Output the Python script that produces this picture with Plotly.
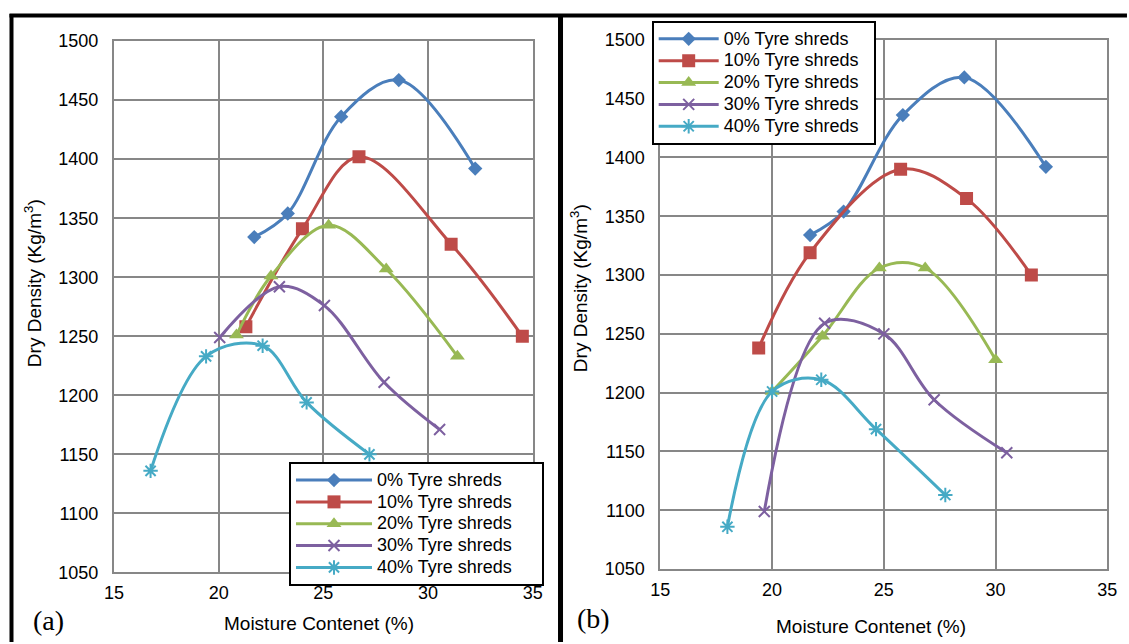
import plotly.graph_objects as go

# ---------------- data ----------------
series_names = ["0% Tyre shreds", "10% Tyre shreds", "20% Tyre shreds",
                "30% Tyre shreds", "40% Tyre shreds"]

# panel (a)
x0a = [21.7, 23.3, 25.85, 28.6, 32.25]
y0a = [1334, 1354, 1436, 1467, 1392]
x10a = [21.3, 24.0, 26.7, 31.1, 34.5]
y10a = [1258, 1341, 1402, 1328, 1250]
x20a = [20.85, 22.5, 25.25, 28.0, 31.4]
y20a = [1251, 1301, 1344, 1307, 1233]
x30a = [20.05, 22.9, 25.05, 27.9, 30.55]
y30a = [1249, 1292, 1276, 1211, 1171]
x40a = [16.75, 19.4, 22.1, 24.2, 27.2]
y40a = [1136, 1233, 1242, 1194, 1150]

# panel (b)
x0b = [21.7, 23.2, 25.85, 28.6, 32.25]
y0b = [1334, 1354, 1436, 1468, 1392]
x10b = [19.4, 21.7, 25.75, 28.7, 31.6]
y10b = [1238, 1319, 1390, 1365, 1300]
x20b = [20.0, 22.25, 24.8, 26.85, 30.0]
y20b = [1201, 1248, 1306, 1306, 1228]
x30b = [19.65, 22.35, 25.0, 27.25, 30.5]
y30b = [1099, 1259, 1250, 1194, 1149]
x40b = [18.0, 20.0, 22.2, 24.65, 27.75]
y40b = [1086, 1201, 1211, 1169, 1113]

x_title = "Moisture Contenet (%)"
y_title = "Dry Density (Kg/m<sup>3</sup>)"

# ---------------- styling ----------------
W, H = 1129, 644
# effective drawing frame observed in the browser (8 px inset)
FX0, FY0, FW, FH = 8, 8, 1113, 628
colors = ["#4A7EBB", "#BE4B48", "#98B954", "#7D60A0", "#46AAC5"]
markers = [
    dict(symbol="diamond", size=11),
    dict(symbol="square", size=13),
    dict(symbol="triangle-up", size=13),
    dict(symbol="x-thin-open", size=11, line=dict(width=2)),
    dict(symbol="asterisk-open", size=12, line=dict(width=2)),
]
FONT = "Liberation Sans, Arial, sans-serif"
SERIF = "Liberation Serif, Times New Roman, serif"


def px(x):
    return (x - FX0) / FW


def py(y):
    return 1 - (y - FY0) / FH


def legend_label(name, pad=0):
    return '<span style="font-size:18px">' + name + "&nbsp;" * pad + '</span>'


fig = go.Figure()

panel_a = [(x0a, y0a), (x10a, y10a), (x20a, y20a), (x30a, y30a), (x40a, y40a)]
panel_b = [(x0b, y0b), (x10b, y10b), (x20b, y20b), (x30b, y30b), (x40b, y40b)]

for panel, xr, yr, lg, pad in [(panel_a, "x", "y", "legend", 5),
                               (panel_b, "x2", "y2", "legend2", 2)]:
    for i, (xs, ys) in enumerate(panel):
        m = dict(markers[i])
        m["color"] = colors[i]
        if "line" in m:
            m["line"] = dict(m["line"], color=colors[i])
        fig.add_trace(go.Scatter(
            x=xs, y=ys, name=legend_label(series_names[i], pad), mode="lines+markers",
            line=dict(color=colors[i], width=3, shape="spline", smoothing=1),
            marker=m, xaxis=xr, yaxis=yr, legend=lg))

grid = "#878787"
axis_common = dict(showgrid=True, gridcolor=grid, gridwidth=2, showline=True,
                   linecolor=grid, linewidth=2, mirror=True, zeroline=False,
                   ticks="outside", tickcolor="rgba(0,0,0,0)",
                   tickfont=dict(family=FONT, size=18, color="black"))

xa = dict(axis_common, range=[15, 35], dtick=5, tick0=15, ticklen=3)
ya = dict(axis_common, range=[1050, 1500], dtick=50, tick0=1050, ticklen=10)

legend_common = dict(font=dict(family=FONT, size=14.5, color="black"),
                     bordercolor="black", borderwidth=2, bgcolor="white",
                     xanchor="left", yanchor="top", tracegroupgap=0)

fig.update_layout(
    width=W, height=H,
    margin=dict(l=0, r=0, t=0, b=0, pad=0),
    paper_bgcolor="white", plot_bgcolor="white",
    xaxis=dict(xa, domain=[px(112.3), px(532.7)], anchor="y"),
    yaxis=dict(ya, domain=[py(574), py(39.3)], anchor="x"),
    xaxis2=dict(xa, domain=[px(660.7), px(1109.3)], anchor="y2"),
    yaxis2=dict(ya, domain=[py(570.7), py(38)], anchor="x2"),
    legend=dict(legend_common, x=px(288), y=py(463), itemwidth=76),
    legend2=dict(legend_common, x=px(652), y=py(19), itemwidth=60),
    showlegend=True,
)

# axis titles and panel letters
ann = [
    dict(text=x_title, x=318.5, y=625, angle=0, size=19, fam=FONT),
    dict(text=x_title, x=872, y=628, angle=0, size=19, fam=FONT),
    dict(text=y_title, x=31, y=283, angle=-90, size=19, fam=FONT),
    dict(text=y_title, x=579, y=288, angle=-90, size=19, fam=FONT),
    dict(text="(a)", x=46.5, y=622, angle=0, size=28, fam=SERIF),
    dict(text="(b)", x=594, y=620, angle=0, size=28, fam=SERIF),
]
for a in ann:
    fig.add_annotation(text=a["text"], x=px(a["x"]), y=py(a["y"]), xref="paper", yref="paper",
                       xanchor="center", yanchor="middle", textangle=a["angle"],
                       showarrow=False, font=dict(family=a["fam"], size=a["size"], color="black"))

# panel frames
frame = [
    (7.5, 13.5, 1129, 13.5, 4),
    (9.5, 12, 9.5, 644, 4),
    (560.5, 12, 560.5, 644, 5),
]
for x0, y0, x1, y1, w in frame:
    fig.add_shape(type="line", xref="paper", yref="paper",
                  x0=px(x0), y0=py(y0), x1=px(x1), y1=py(y1),
                  line=dict(color="black", width=w))

fig.write_html("out.html")
